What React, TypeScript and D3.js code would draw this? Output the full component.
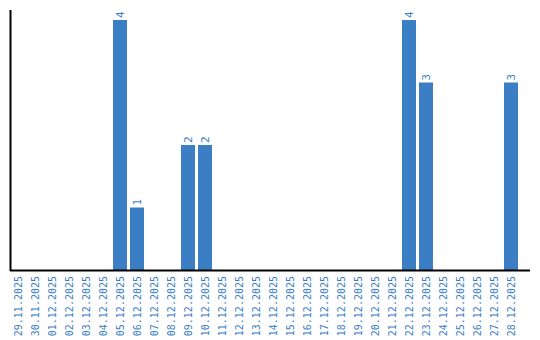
import React from "react";
import * as d3 from "d3";

const categories = [
  "29.11.2025","30.11.2025","01.12.2025","02.12.2025","03.12.2025","04.12.2025",
  "05.12.2025","06.12.2025","07.12.2025","08.12.2025","09.12.2025","10.12.2025",
  "11.12.2025","12.12.2025","13.12.2025","14.12.2025","15.12.2025","16.12.2025",
  "17.12.2025","18.12.2025","19.12.2025","20.12.2025","21.12.2025","22.12.2025",
  "23.12.2025","24.12.2025","25.12.2025","26.12.2025","27.12.2025","28.12.2025",
];
const values = [
  0,0,0,0,0,0,
  4,1,0,0,2,2,
  0,0,0,0,0,0,
  0,0,0,0,0,4,
  3,0,0,0,0,3,
];

const W = 540, H = 340;
const COLOR = "#3b7ec3";
const FONT = "DejaVu Sans Mono, monospace";

export default function App() {
  const x = d3.scaleBand<string>().domain(categories).range([10, 519])
    .paddingInner(3 / 17).paddingOuter(1 / 17);
  const y = d3.scaleLinear().domain([0, 4]).range([270, 20]);
  return (
    <svg width={W} height={H} style={{ position: "absolute", left: 0, top: 0 }}>
      {categories.map((c, i) => {
        const v = values[i];
        const bx = x(c)!;
        const cx = bx + x.bandwidth() / 2;
        return (
          <g key={c}>
            {v > 0 && (
              <>
                <rect x={bx} y={y(v)} width={x.bandwidth()} height={270 - y(v)} fill={COLOR} />
                <text transform={`translate(${cx + 4},${y(v) - 2}) rotate(-90)`}
                  fontSize={11} fontFamily={FONT} fill={COLOR}>{v}</text>
              </>
            )}
            <text transform={`translate(${cx + 3.5},276) rotate(-90)`} textAnchor="end"
              fontSize={10} fontFamily={FONT} fill={COLOR}>{c}</text>
          </g>
        );
      })}
      <line x1={10.5} x2={10.5} y1={10} y2={271} stroke="#000" strokeWidth={2} />
      <line x1={10} x2={530} y1={270.5} y2={270.5} stroke="#000" strokeWidth={2} />
    </svg>
  );
}
